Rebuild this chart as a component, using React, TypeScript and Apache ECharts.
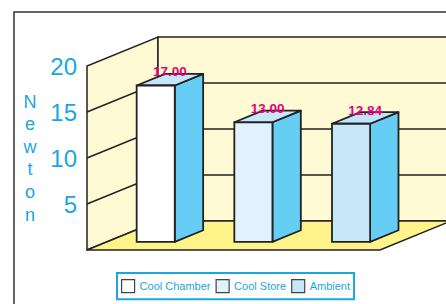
import React, { useEffect, useRef } from 'react';
import * as echarts from 'echarts';

const categories = ['Cool Chamber', 'Cool Store', 'Ambient'];
const values = [17.0, 13.0, 12.84];
const yTicks = [0, 5, 10, 15, 20];
const axisName = 'Newton';

const frontColors = ['#ffffff', '#e1f2fc', '#c6e8f9'];
const topColors = ['#c3e6f8', '#c6e7f8', '#c0e5f8'];
const SIDE = '#66cdf5';
const CYAN = '#1aa5e6';
const WALL = '#fffad3';
const FLOOR = '#fff48a';
const EDGE = '#222222';
const DEPTH_X = 71;
const DEPTH_Y = -29;
const F1 = 0.28;
const F2 = 0.68;
const BAR_W = 0.39;

export default function App() {
  const ref = useRef<HTMLDivElement>(null);
  useEffect(() => {
    const chart = echarts.init(ref.current!, null, { renderer: 'svg' });
    const yMax = yTicks[yTicks.length - 1];

    const wallsSeries: any = {
      type: 'custom',
      name: '__walls',
      silent: true,
      z: 1,
      data: [[0, 0]],
      renderItem: (params: any, api: any) => {
        const cs = params.coordSys;
        const x0 = cs.x;
        const x1 = cs.x + cs.width;
        const yb = api.coord([0, 0])[1];
        const yt = api.coord([0, yMax])[1];
        const dx = DEPTH_X;
        const dy = DEPTH_Y;
        const children: any[] = [
          {
            type: 'polygon',
            shape: { points: [[x0, yb], [x0, yt], [x0 + dx, yt + dy], [x0 + dx, yb + dy]] },
            style: { fill: WALL, stroke: EDGE, lineWidth: 1.5 },
          },
          {
            type: 'polygon',
            shape: { points: [[x0 + dx, yb + dy], [x0 + dx, yt + dy], [x1 + dx, yt + dy], [x1 + dx, yb + dy]] },
            style: { fill: WALL, stroke: EDGE, lineWidth: 1.5 },
          },
          {
            type: 'polygon',
            shape: { points: [[x0, yb], [x1, yb], [x1 + dx, yb + dy], [x0 + dx, yb + dy]] },
            style: { fill: FLOOR, stroke: EDGE, lineWidth: 1.5 },
          },
        ];
        yTicks.forEach((t) => {
          if (t <= 0 || t >= yMax) return;
          const y = api.coord([0, t])[1];
          children.push({
            type: 'polyline',
            shape: { points: [[x0, y], [x0 + dx, y + dy], [x1 + dx, y + dy]] },
            style: { fill: 'none', stroke: EDGE, lineWidth: 1.5 },
          });
        });
        return { type: 'group', children };
      },
    };

    const barSeries: any[] = categories.map((name, idx) => ({
      type: 'custom',
      name,
      z: 2,
      itemStyle: { color: frontColors[idx], borderColor: '#444', borderWidth: 1.2 },
      data: [[idx, values[idx]]],
      renderItem: (params: any, api: any) => {
        const i = api.value(0);
        const v = api.value(1);
        const c0 = api.coord([i, 0]);
        const c1 = api.coord([i, v]);
        const bw = api.size([1, 0])[0] * BAR_W;
        const xl = c0[0] - bw / 2 + F1 * DEPTH_X;
        const xr = xl + bw;
        const yb = c0[1] + F1 * DEPTH_Y;
        const yt = c1[1] + F1 * DEPTH_Y;
        const ddx = (F2 - F1) * DEPTH_X;
        const ddy = (F2 - F1) * DEPTH_Y;
        return {
          type: 'group',
          children: [
            {
              type: 'polygon',
              shape: { points: [[xr, yb], [xr, yt], [xr + ddx, yt + ddy], [xr + ddx, yb + ddy]] },
              style: { fill: SIDE, stroke: EDGE, lineWidth: 1.8, lineJoin: 'round' },
            },
            {
              type: 'polygon',
              shape: { points: [[xl, yt], [xr, yt], [xr + ddx, yt + ddy], [xl + ddx, yt + ddy]] },
              style: { fill: topColors[idx], stroke: EDGE, lineWidth: 1.8, lineJoin: 'round' },
            },
            {
              type: 'rect',
              shape: { x: xl, y: yt, width: bw, height: yb - yt },
              style: { fill: frontColors[idx], stroke: EDGE, lineWidth: 1.8 },
            },
            {
              type: 'text',
              style: {
                text: v.toFixed(2),
                x: (xl + xr + ddx) / 2,
                y: yt + ddy - 2,
                align: 'center',
                verticalAlign: 'middle',
                fill: '#e4007f',
                fontSize: 13.5,
                fontWeight: 'bold',
                fontFamily: 'Liberation Sans, Arial, sans-serif',
              },
            },
          ],
        };
      },
    }));

    chart.setOption({
      animation: false,
      backgroundColor: '#ffffff',
      grid: { left: 87, right: 66, top: 66, bottom: 54, containLabel: false },
      xAxis: {
        type: 'category',
        data: categories,
        show: false,
      },
      yAxis: {
        type: 'value',
        min: 0,
        max: yMax,
        interval: 5,
        axisLine: { show: false },
        axisTick: { show: false },
        splitLine: { show: false },
        axisLabel: {
          showMinLabel: false,
          margin: 10,
          fontSize: 24,
          color: CYAN,
          fontFamily: 'Liberation Sans, Arial, sans-serif',
          formatter: (val: number) => (val === 0 ? '' : String(val)),
        },
      },
      legend: {
        data: categories,
        left: 117,
        top: 273,
        orient: 'horizontal',
        icon: 'rect',
        itemWidth: 13,
        itemHeight: 13,
        itemGap: 5,
        padding: [6, 4, 6, 4],
        borderColor: CYAN,
        borderWidth: 2,
        itemStyle: { borderColor: '#444', borderWidth: 1.2 },
        textStyle: { color: CYAN, fontSize: 11, fontFamily: 'Liberation Sans, Arial, sans-serif' },
      },
      graphic: [
        {
          type: 'rect',
          silent: true,
          z: -10,
          shape: { x: 14, y: 12, width: 700, height: 500 },
          style: { fill: 'none', stroke: '#333', lineWidth: 1.5 },
        },
        {
          type: 'text',
          silent: true,
          x: 30,
          y: 158,
          style: {
            text: axisName.split('').join('\n'),
            fill: CYAN,
            fontSize: 18,
            lineHeight: 22.6,
            align: 'center',
            verticalAlign: 'middle',
            fontFamily: 'Liberation Sans, Arial, sans-serif',
          },
        },
      ],
      series: [wallsSeries, ...barSeries],
    });
    return () => chart.dispose();
  }, []);
  return (
    <div
      ref={ref}
      style={{ position: 'fixed', left: 0, top: 0, width: 446, height: 304, background: '#fff' }}
    />
  );
}
